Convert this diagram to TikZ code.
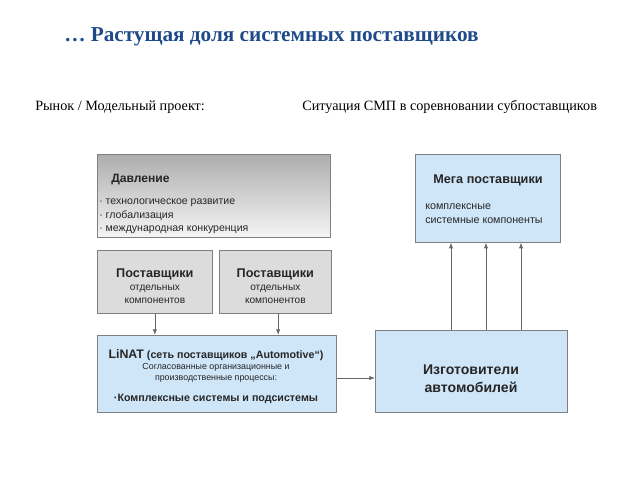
\documentclass[tikz,border=0pt]{standalone}
\usepackage{fontspec}
\setmainfont{Liberation Serif}
\setsansfont{Liberation Sans}
\usetikzlibrary{arrows.meta}

\definecolor{titleblue}{HTML}{1F4A8A}
\definecolor{boxblue}{HTML}{CFE5F8}
\definecolor{boxgray}{HTML}{DCDCDC}
\definecolor{framegray}{HTML}{7F7F7F}

\tikzset{
  box/.style={draw=framegray, line width=0.5pt, inner sep=0pt},
  bluebox/.style={box, fill=boxblue},
  graybox/.style={box, fill=boxgray},
  txt/.style={font=\sffamily, inner sep=0pt, text=black!85},
  arr/.style={-{Latex[length=4pt,width=3pt]}, draw=black!60, line width=0.5pt}
}

\begin{document}
\begin{tikzpicture}[x=0.025cm, y=-0.025cm]
  \useasboundingbox (0,0) rectangle (640,480);

  % Headings
  \node[anchor=west, inner sep=0pt, text=titleblue, font=\fontsize{15.1}{18}\selectfont\bfseries]
    (title) at (64,37) {… Растущая доля системных поставщиков};
  \node[anchor=west, inner sep=0pt, font=\fontsize{10.1}{12}\selectfont]
    (market) at (35,107) {Рынок / Модельный проект:};
  \node[anchor=west, inner sep=0pt, font=\fontsize{10.1}{12}\selectfont]
    (situation) at (302,107) {Ситуация СМП в соревновании субпоставщиков};

  % Pressure box
  \node[box, top color=black!32, bottom color=black!4, anchor=north west,
        minimum width=233*0.025cm, minimum height=83*0.025cm] (press) at (97,154) {};
  \node[txt, anchor=west, font=\sffamily\bfseries\fontsize{8.6}{10}\selectfont] (presshead) at (111,180) {Давление};
  \node[txt, anchor=north west, align=left, font=\sffamily\fontsize{7.5}{9.5}\selectfont] (presslist) at (99,199)
    {· технологическое развитие\\ · глобализация\\ · международная конкуренция};

  % Component suppliers
  \node[graybox, anchor=north west, minimum width=115*0.025cm, minimum height=63*0.025cm] (supA) at (97,250) {};
  \node[graybox, anchor=north west, minimum width=112*0.025cm, minimum height=63*0.025cm] (supB) at (219,250) {};
  \foreach \s in {supA,supB}
    \node[txt, align=center, font=\sffamily\fontsize{7.2}{9.3}\selectfont] (\s text) at ([yshift=-3pt]\s.center)
      {{\bfseries\fontsize{9}{11}\selectfont Поставщики}\\ отдельных\\ компонентов};

  % LiNAT network
  \node[bluebox, anchor=north west, minimum width=239*0.025cm, minimum height=77*0.025cm] (linat) at (97,335) {};
  \node[txt, font=\sffamily\bfseries\fontsize{7.6}{9}\selectfont] (linathead) at (216,355)
    {{\fontsize{8.8}{9}\selectfont LiNAT} (сеть поставщиков „Automotive“)};
  \node[txt, align=center, font=\sffamily\fontsize{6.3}{8.2}\selectfont] (linatproc) at (216,373)
    {Согласованные организационные и\\ производственные процессы:};
  \node[txt, font=\sffamily\bfseries\fontsize{7.6}{8}\selectfont] (linatsys) at (216,399)
    {·Комплексные системы и подсистемы};

  % Car makers
  \node[bluebox, anchor=north west, minimum width=192*0.025cm, minimum height=82*0.025cm] (cars) at (375,330) {};
  \node[txt, align=center, font=\sffamily\bfseries\fontsize{10}{12.6}\selectfont] (carstext) at (471,379)
    {Изготовители\\ автомобилей};

  % Mega suppliers
  \node[bluebox, anchor=north west, minimum width=145*0.025cm, minimum height=88*0.025cm] (mega) at (415,154) {};
  \node[txt, font=\sffamily\bfseries\fontsize{9}{10}\selectfont] (megahead) at (488,180) {Мега поставщики};
  \node[txt, anchor=north west, align=left, font=\sffamily\fontsize{7.6}{10}\selectfont] (megalist) at (425,203)
    {комплексные\\ системные компоненты};

  % Connectors
  \draw[arr] (supA.south) -- (supA.south |- linat.north);
  \draw[arr] ([xshift=2pt]supB.south) -- ([xshift=2pt]supB.south |- linat.north);
  \draw[arr] (linat.east |- 0,378) -- (cars.west |- 0,378);
  \foreach \xx [count=\i] in {451,486,521} {
    \coordinate (up\i) at (\xx,0);
    \draw[arr] (cars.north -| up\i) -- (mega.south -| up\i);
  }
\end{tikzpicture}
\end{document}
